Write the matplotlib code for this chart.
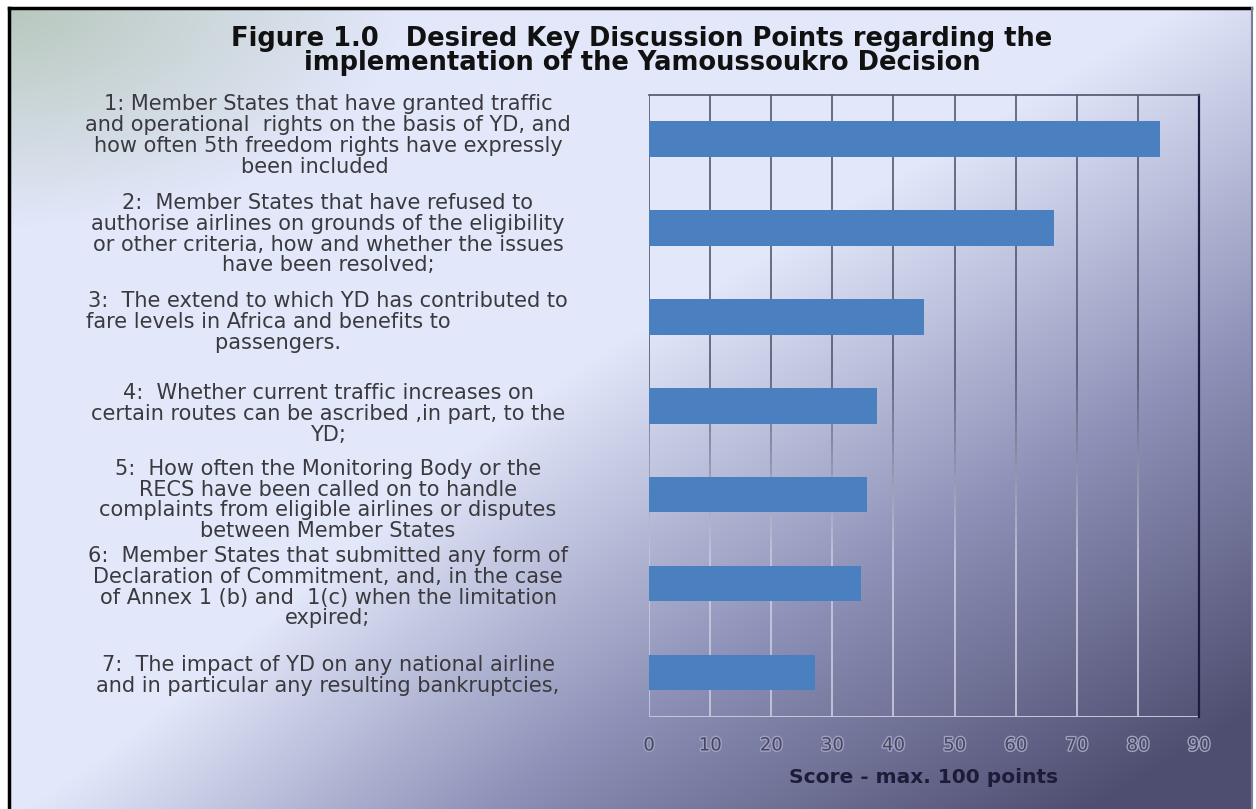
import numpy as np
import matplotlib
matplotlib.use("Agg")
import matplotlib.pyplot as plt
from matplotlib.collections import LineCollection
from matplotlib.transforms import blended_transform_factory
import matplotlib.patheffects as pe

# --- data ---
points = [
    "1: Member States that have granted traffic\nand operational  rights on the basis of YD, and\nhow often 5th freedom rights have expressly\nbeen included    ",
    "2:  Member States that have refused to\nauthorise airlines on grounds of the eligibility\nor other criteria, how and whether the issues\nhave been resolved;",
    "3:  The extend to which YD has contributed to\nfare levels in Africa and benefits to                  \npassengers.               ",
    "4:  Whether current traffic increases on\ncertain routes can be ascribed ,in part, to the\nYD;",
    "5:  How often the Monitoring Body or the\nRECS have been called on to handle\ncomplaints from eligible airlines or disputes\nbetween Member States",
    "6:  Member States that submitted any form of\nDeclaration of Commitment, and, in the case\nof Annex 1 (b) and  1(c) when the limitation\nexpired;",
    "7:  The impact of YD on any national airline\nand in particular any resulting bankruptcies,",
]
scores = [83.6, 66.2, 45.0, 37.3, 35.7, 34.7, 27.1]
xticks = [0, 10, 20, 30, 40, 50, 60, 70, 80, 90]
# small vertical nudges of the text blocks (in category units)
label_shift = [-0.04, 0.07, 0.06, 0.09, 0.06, 0.04, 0.03]

W, H = 1256, 809
fig = plt.figure(figsize=(W / 100, H / 100), dpi=100, facecolor="white")


def smooth(t):
    t = np.clip(t, 0, 1)
    return t * t * (3 - 2 * t)


# --- slide-style gradient background ---
yy, xx = np.mgrid[0:H, 0:W]
u = xx / W
v = yy / H
d = u + 1.08 * v - 0.95 - 0.15 * (1 - smooth(u / 0.5))
d = np.clip(d, 0, 1)[..., None]
light = np.array([226, 231, 250]) / 255
mid = np.array([142, 146, 184]) / 255
dark = np.array([78, 78, 112]) / 255
lo = np.clip(d / 0.5, 0, 1)
hi = np.clip((d - 0.5) / 0.5, 0, 1)
img = np.where(d < 0.5, light * (1 - lo) + mid * lo, mid * (1 - hi) + dark * hi)
w = np.clip(1 - np.sqrt((u / 0.32) ** 2 + (v / 0.28) ** 2), 0, 1)[..., None] * 0.75
green = np.array([168, 188, 166]) / 255
img = img * (1 - w) + green * w

bg = fig.add_axes([9 / W, 0, (1251 - 9) / W, (H - 8) / H])
bg.imshow(img[8:, 9:1251], aspect="auto", interpolation="bilinear")
bg.set_axis_off()
bg.set_zorder(-5)

# frame around the slide
fig.add_artist(plt.Line2D([8.5 / W, 8.5 / W], [0, (H - 7.5) / H], color="black", lw=2.5))
fig.add_artist(plt.Line2D([8.5 / W, 1251 / W], [(H - 7.5) / H, (H - 7.5) / H], color="black", lw=2.5))
fig.add_artist(plt.Line2D([1251.5 / W, 1251.5 / W], [0, (H - 7.5) / H], color="#7c7c98", lw=1.5))

# --- bar chart ---
ax = fig.add_axes([649 / W, 92 / H, 550 / W, (717 - 94.5) / H])
ax.patch.set_alpha(0)
pos = np.arange(len(scores))
ax.barh(pos, scores, height=0.4, color="#4a7fc0", zorder=3)
ax.set_xlim(0, 90)
ax.set_ylim(len(scores) - 0.5, -0.5)
ax.set_yticks([])
ax.set_xticks(xticks)
ax.set_xticklabels([str(t) for t in xticks], fontsize=13, color="#46465e",
                   path_effects=[pe.withStroke(linewidth=2, foreground="#a0a2c4")])
ax.tick_params(axis="x", length=0, pad=14)

# gridlines fade from dark (top) to light (bottom)
ys = np.linspace(-0.5, len(scores) - 0.5, 60)
frac = (ys + 0.5) / len(scores)
mix = np.clip((frac - 0.45) / 0.3, 0, 1)
c_top = np.array([0.33, 0.35, 0.45])
c_bot = np.array([0.80, 0.80, 0.88])
seg_cols = [tuple(c_top * (1 - m) + c_bot * m) for m in (mix[:-1] + mix[1:]) / 2]
for gx in xticks[:-1]:
    segs = [[(gx, ys[i]), (gx, ys[i + 1])] for i in range(len(ys) - 1)]
    ax.add_collection(LineCollection(segs, colors=seg_cols, linewidths=1.2, zorder=2))

for side in ["left", "bottom"]:
    ax.spines[side].set_visible(False)
ax.spines["top"].set_color("#50546c")
ax.spines["top"].set_linewidth(1.2)
ax.spines["right"].set_color("#1c1c40")
ax.spines["right"].set_linewidth(1.6)
ax.axhline(len(scores) - 0.5, color="#c8c8dc", lw=1.4, zorder=2)

ax.set_xlabel("Score - max. 100 points", fontsize=14.5, fontweight="bold",
              color="#1c1c38", labelpad=10)

# category descriptions to the left of the bars
tr = blended_transform_factory(fig.transFigure, ax.transData)
for i, txt in enumerate(points):
    ax.text(328 / W, i + label_shift[i], txt, transform=tr, ha="center", va="center",
            multialignment="center", fontsize=15, color="#3a3a3e",
            linespacing=1.05, clip_on=False)

fig.text(642 / W, 1 - 51 / H,
         "Figure 1.0   Desired Key Discussion Points regarding the\nimplementation of the Yamoussoukro Decision",
         ha="center", va="center", fontsize=18.5, fontweight="bold",
         color="#111111", linespacing=0.9)

fig.savefig("out.png", dpi=100)
